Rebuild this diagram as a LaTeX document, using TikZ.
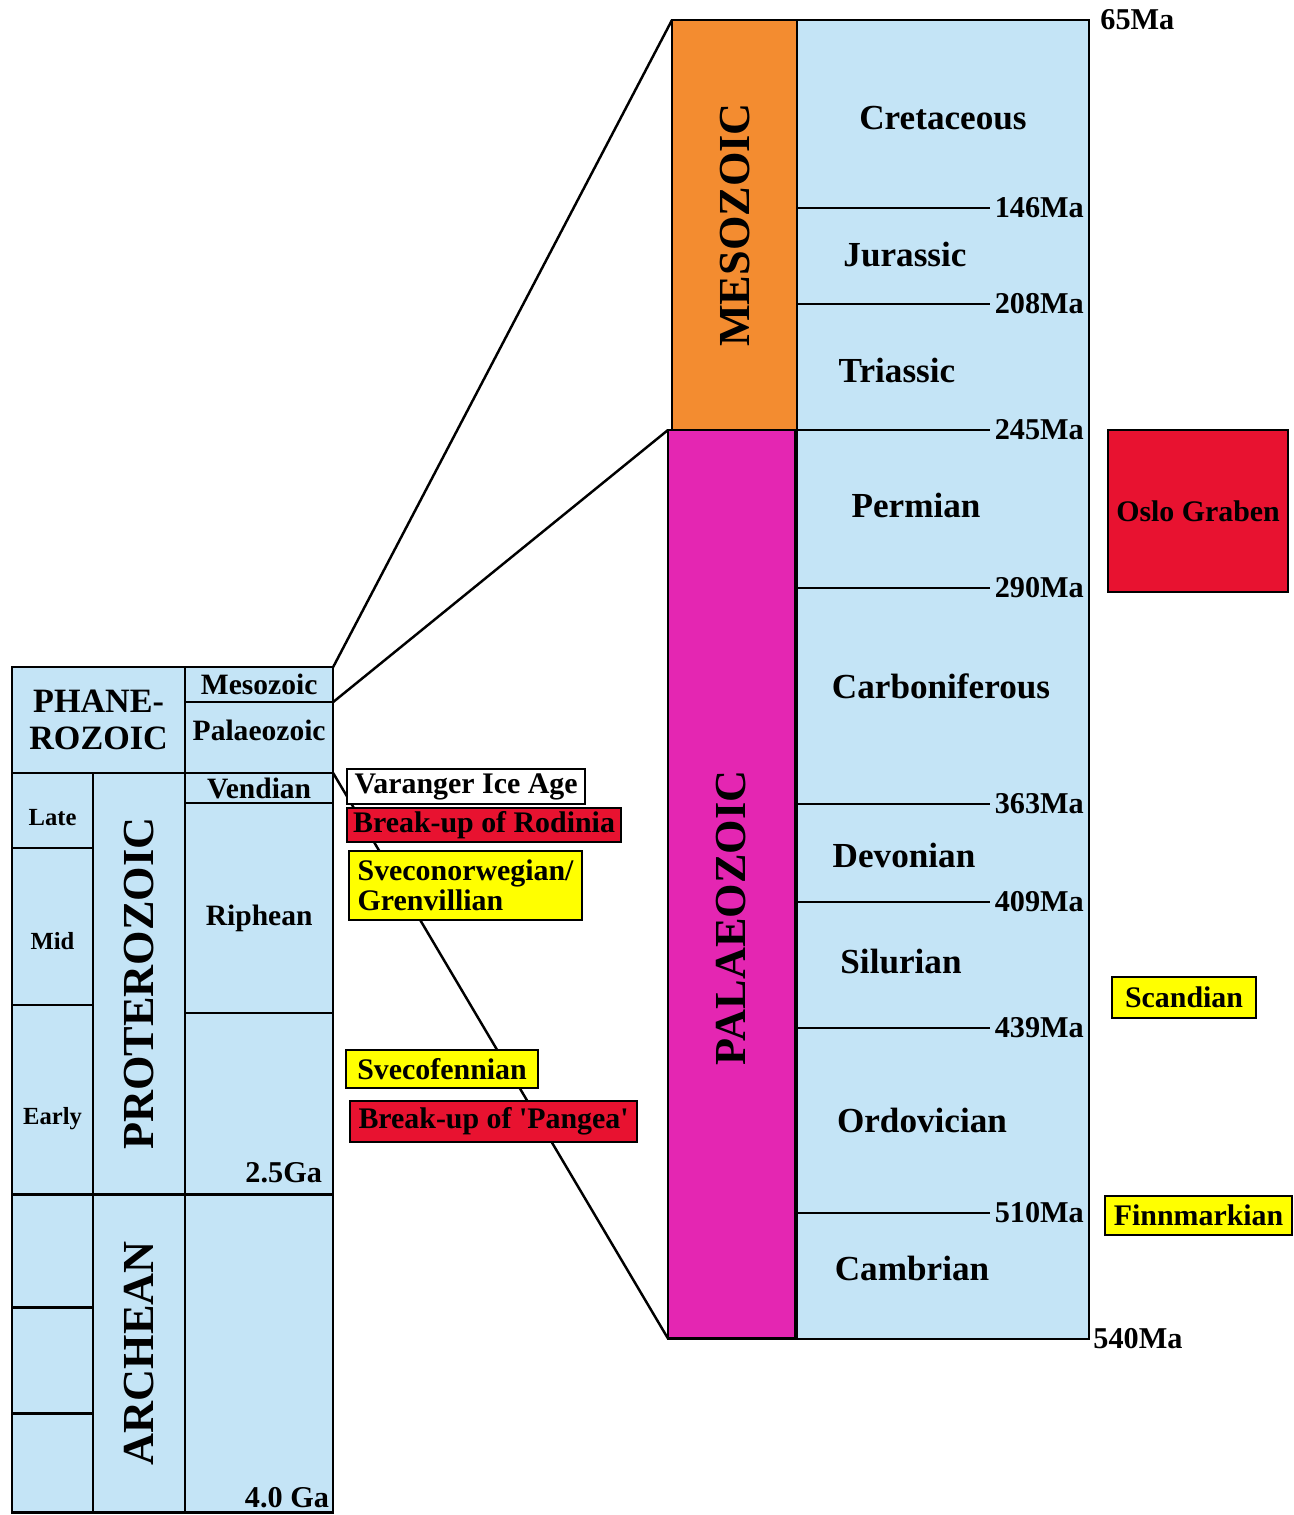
\documentclass[tikz,border=0pt]{standalone}
\usepackage{fontspec}
\setmainfont{Liberation Serif}
\usepackage{xcolor}
\definecolor{geoblue}{RGB}{196,228,246}
\definecolor{mesoorange}{RGB}{243,140,48}
\definecolor{palaeomagenta}{RGB}{228,38,178}
\definecolor{eventred}{RGB}{232,18,48}
\definecolor{eventyellow}{RGB}{255,255,0}
\usepackage{tikz}
\usetikzlibrary{positioning, calc}
\tikzset{
  cell/.style={
    rectangle, draw=black, fill=geoblue, line width=0.7pt,
    anchor=north west, inner sep=0pt, outer sep=0pt,
    text centered, font=\bfseries\fontsize{8.4}{10}\selectfont
  },
  subcell/.style={cell, minimum width=0.81cm},
  eracell/.style={cell, minimum width=0.92cm},
  celltext/.style={inner sep=0pt, font=\bfseries\fontsize{8.4}{10}\selectfont},
  subtext/.style={inner sep=0pt, font=\bfseries\fontsize{7}{8}\selectfont},
  erastrip/.style={
    rectangle, draw=black, line width=0.7pt,
    anchor=north west, inner sep=0pt, outer sep=0pt
  },
  vlabel/.style={
    rotate=90, inner sep=0pt,
    font=\bfseries\fontsize{12.6}{14}\selectfont
  },
  period/.style={inner sep=0pt, font=\bfseries\fontsize{10}{12}\selectfont},
  age/.style={anchor=west, inner sep=1pt, font=\bfseries\fontsize{8.6}{10}\selectfont},
  event/.style={
    rectangle, draw=black, line width=0.7pt,
    anchor=north west, inner sep=0pt, outer sep=0pt,
    text centered, font=\bfseries\fontsize{8.5}{10}\selectfont
  },
  link/.style={line width=0.7pt},
}

\begin{document}
\begin{tikzpicture}[x=0.01cm, y=-0.01cm]
  \useasboundingbox (0,0) rectangle (1294,1515);

  % left column: eons and eras
  \node (phan)      [cell, minimum width=1.73cm, minimum height=1.06cm, align=center,
                     font=\bfseries\fontsize{9.7}{10.4}\selectfont] at (12,667) {PHANE-\\ROZOIC};
  \node (mesosmall) [cell, minimum width=1.48cm, minimum height=0.35cm] at (phan.north east)     {Mesozoic};
  \node (palsmall)  [cell, minimum width=1.48cm, minimum height=0.71cm] at (mesosmall.south west) {};
  \node (late)      [subcell, minimum height=0.75cm] at (phan.south west)  {};
  \node (mid)       [subcell, minimum height=1.57cm] at (late.south west)  {};
  \node (early)     [subcell, minimum height=1.89cm] at (mid.south west)   {};
  \node (arch1)     [subcell, minimum height=1.13cm] at (early.south west) {};
  \node (arch2)     [subcell, minimum height=1.06cm] at (arch1.south west) {};
  \node (arch3)     [subcell, minimum height=0.99cm] at (arch2.south west) {};
  \node (prot)      [eracell, minimum height=4.21cm] at (late.north east)  {};
  \node (arch)      [eracell, minimum height=3.18cm] at (prot.south west)  {};
  \node (vendian)   [cell, minimum width=1.48cm, minimum height=0.30cm] at (palsmall.south west) {Vendian};
  \node (riphean)   [cell, minimum width=1.48cm, minimum height=2.10cm] at (vendian.south west)  {};
  \node (lowerpro)  [cell, minimum width=1.48cm, minimum height=1.81cm] at (riphean.south west) {};
  \node (archright) [cell, minimum width=1.48cm, minimum height=3.18cm] at (lowerpro.south west) {};

  \node (paltext)   [celltext] at ($(palsmall.center)+(0,-7)$) {Palaeozoic};
  \node (riphtext)  [celltext] at ($(riphean.center)+(0,10)$)  {Riphean};
  \node (latetext)  [subtext]  at ($(late.center)+(0,7)$)      {Late};
  \node (midtext)   [subtext]  at ($(mid.center)+(0,14)$)      {Mid};
  \node (earlytext) [subtext]  at ($(early.center)+(0,19)$)    {Early};
  \node (protlabel) [vlabel] at (prot.center) {PROTEROZOIC};
  \node (archlabel) [vlabel] at (arch.center) {ARCHEAN};
  \node (ga25) [age, anchor=south east, inner sep=3pt] at (lowerpro.south east)  {2.5Ga};
  \node (ga40) [age, anchor=south east, inner sep=1pt] at (archright.south east) {4.0 Ga};

  % right column: periods
  \node (periods) [cell, minimum width=2.92cm, minimum height=13.18cm] at (797,20) {};
  \node (meso)    [erastrip, fill=mesoorange, minimum width=1.25cm, minimum height=4.10cm] at (672,20) {};
  \node (palaeo)  [erastrip, fill=palaeomagenta, minimum width=1.27cm, minimum height=9.08cm] at (668,430) {};
  \node (mesolabel)   [vlabel] at (meso.center) {MESOZOIC};
  \node (palaeolabel) [vlabel] at (731,918) {PALAEOZOIC};

  \foreach \y/\ma in {208/146, 304/208, 430/245, 588/290, 804/363, 902/409, 1028/439, 1213/510}
    \draw[link] (797,\y) -- (990,\y) node (t\ma) [age] {\ma Ma};
  \node (top)  [age, inner sep=3pt] at (periods.north east) {65Ma};
  \node (base) [age] at (periods.south east) {540Ma};

  \foreach \x/\y/\name in {943/118/Cretaceous, 905/255/Jurassic, 897/370/Triassic,
                           916/505/Permian, 941/686/Carboniferous, 904/855/Devonian,
                           901/962/Silurian, 922/1120/Ordovician, 912/1268/Cambrian}
    \node (\name) [period] at (\x,\y) {\name};

  % zoom lines
  \draw[link] (mesosmall.north east) -- (meso.north west);
  \draw[link] (mesosmall.south east) -- (palaeo.north west);
  \draw[link] (vendian.north east)   -- (palaeo.south west);

  % events
  \node (varanger)  [event, fill=white, minimum width=2.38cm, minimum height=0.35cm] at (347,769) {Varanger Ice Age};
  \node (rodinia)   [event, fill=eventred, minimum width=2.74cm, minimum height=0.34cm] at (347,808) {Break-up of Rodinia};
  \node (sveconorw) [event, fill=eventyellow, minimum width=2.33cm, minimum height=0.69cm, align=left,
                     font=\bfseries\fontsize{8.5}{8.4}\selectfont] at (349,851) {Sveconorwegian/\\Grenvillian};
  \node (svecof)    [event, fill=eventyellow, minimum width=1.92cm, minimum height=0.38cm] at (346,1050) {Svecofennian};
  \node (pangea)    [event, fill=eventred, minimum width=2.87cm, minimum height=0.41cm] at (350,1101)
                    {Break-up of \textquotesingle Pangea\textquotesingle};
  \node (oslo)      [event, fill=eventred, minimum width=1.80cm, minimum height=1.62cm] at (1108,430) {Oslo Graben};
  \node (scandian)  [event, fill=eventyellow, minimum width=1.44cm, minimum height=0.41cm] at (1112,977) {Scandian};
  \node (finnmark)  [event, fill=eventyellow, minimum width=1.87cm, minimum height=0.39cm] at (1105,1196) {Finnmarkian};
\end{tikzpicture}
\end{document}
